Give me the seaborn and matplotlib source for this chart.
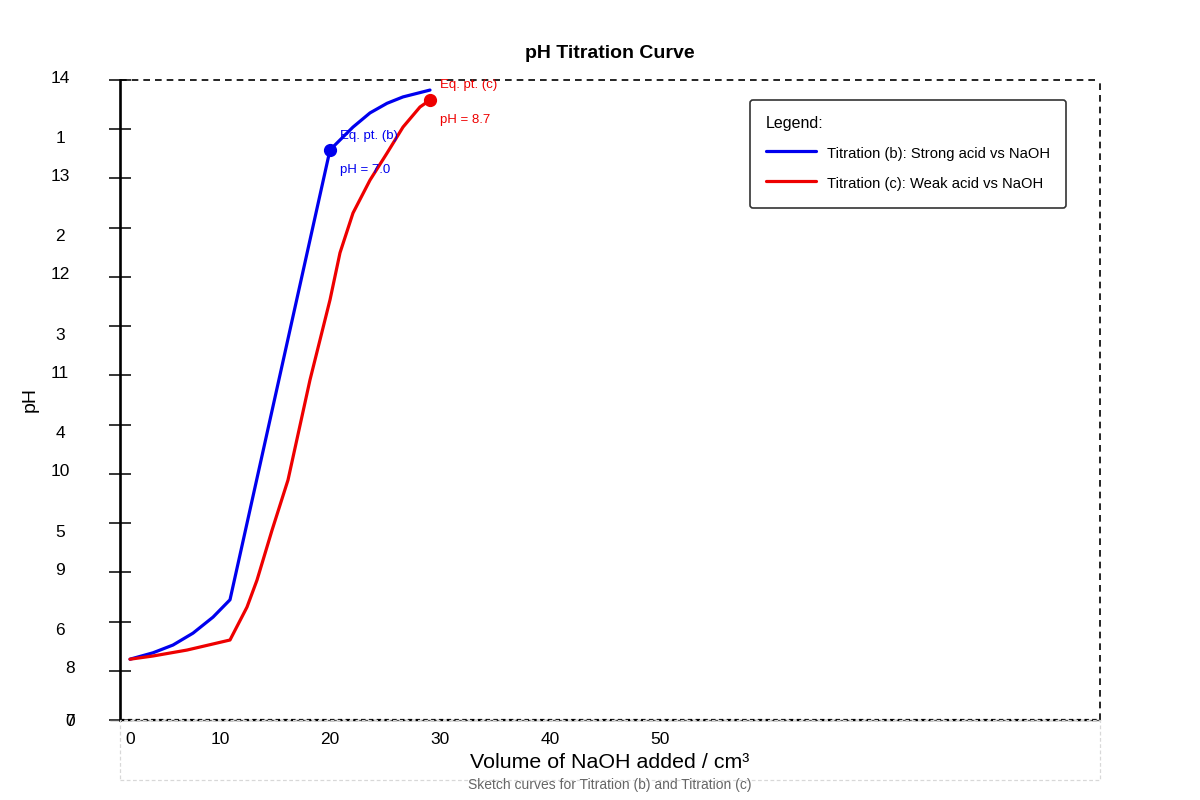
import numpy as np
import pandas as pd
import matplotlib
matplotlib.use("Agg")
import matplotlib.pyplot as plt
from matplotlib.patches import Rectangle
import seaborn as sns

# curve data (volume in cm3, pH)
vol_b = [0, 2.3, 4.3, 6.3, 8.3, 10, 20, 22.3, 24, 25.7, 27.3, 30]
ph_b = [1.33, 1.47, 1.64, 1.90, 2.25, 2.63, 12.47, 12.97, 13.28, 13.49, 13.63, 13.78]
vol_c = [0, 2.3, 5.7, 10, 11.7, 12.7, 14.2, 15.8, 18, 20, 21, 22.3, 24, 25.7, 27.3, 29, 30]
ph_c = [1.33, 1.40, 1.53, 1.75, 2.47, 3.06, 4.15, 5.25, 7.44, 9.19, 10.22, 11.09,
        11.81, 12.40, 12.97, 13.41, 13.56]

eq_b = (20, 12.47)
eq_c = (30, 13.56)
eq_b_text = ["Eq. pt. (b)", "pH = 7.0"]
eq_c_text = ["Eq. pt. (c)", "pH = 8.7"]

x_tick_labels = ["0", "10", "20", "30", "40", "50"]
y_labels_a = ["14", "13", "12", "11", "10", "9", "8"]
y_labels_b = ["1", "2", "3", "4", "5", "6"]

label_b = "Titration (b): Strong acid vs NaOH"
label_c = "Titration (c): Weak acid vs NaOH"

df_b = pd.DataFrame({"vol": vol_b, "ph": ph_b})
df_c = pd.DataFrame({"vol": vol_c, "ph": ph_c})

sns.set_style("white")
plt.rcParams["font.family"] = ["Liberation Sans", "DejaVu Sans"]
plt.rcParams.update({"text.color": "black", "xtick.color": "black",
                     "ytick.color": "black", "axes.labelcolor": "black"})

fig = plt.figure(figsize=(12, 8), dpi=100)
ax = fig.add_axes([120 / 1200, 80 / 800, 980 / 1200, 640 / 800])

blue = "#0000ee"
red = "#ee0000"
sns.lineplot(data=df_b, x="vol", y="ph", sort=False, color=blue, lw=2.3,
             label=label_b, ax=ax, zorder=3, solid_joinstyle="round")
sns.lineplot(data=df_c, x="vol", y="ph", sort=False, color=red, lw=2.3,
             label=label_c, ax=ax, zorder=3, solid_joinstyle="round")

ax.plot(*eq_b, "o", color=blue, ms=8.5, zorder=4)
ax.plot(*eq_c, "o", color=red, ms=8.5, zorder=4)

ax.set_xlim(-1, 97)
ax.set_ylim(0, 14)
px = 14 / 640  # pH per pixel

# annotations next to the equivalence points
ax.text(eq_b[0] + 1, eq_b[1] + 14 * px, eq_b_text[0], color=blue, fontsize=9.5, va="center")
ax.text(eq_b[0] + 1, eq_b[1] - 20 * px, eq_b_text[1], color=blue, fontsize=9.5, va="center")
ax.text(eq_c[0] + 1, eq_c[1] + 15 * px, eq_c_text[0], color=red, fontsize=9.5, va="center")
ax.text(eq_c[0] + 1, eq_c[1] - 20 * px, eq_c_text[1], color=red, fontsize=9.5, va="center")

# spines / frame
for s in ["top", "right", "bottom"]:
    ax.spines[s].set_visible(False)
ax.spines["left"].set_linewidth(1.9)
ax.spines["left"].set_color("black")
ax.axhline(14, color="black", lw=1.2, ls=(0, (4, 3)), clip_on=False)
ax.axvline(97, color="black", lw=1.2, ls=(0, (4, 3)), clip_on=False)
ax.plot([-2, 97], [0, 0], color="#555555", lw=1.0, clip_on=False)
ax.axhline(0, color="black", lw=1.6, ls=(0, (2, 1.5)), clip_on=False)

# y ticks and the odd double labelling
yt = np.linspace(0, 14, 14)
ax.set_yticks(yt, labels=[])
ax.tick_params(axis="y", left=True, direction="inout", length=16, width=1.1, color="black")
ytr = ax.get_yaxis_transform()
top_down = yt[::-1]
for i, lab in enumerate(y_labels_a):
    xx = -0.051 if lab == "8" else -0.0612
    ax.text(xx, top_down[2 * i] + 2 * px, lab, transform=ytr, ha="center", va="center", fontsize=12.5)
for i, lab in enumerate(y_labels_b):
    ax.text(-0.0612, top_down[2 * i + 1] - 9 * px, lab, transform=ytr, ha="center", va="center", fontsize=12.5)
ax.text(-0.051, -2 * px, "0", transform=ytr, ha="center", va="center", fontsize=12.5)
ax.text(-0.051, -2 * px, "7", transform=ytr, ha="center", va="center", fontsize=12.5)

# x tick labels (spaced as in the sketch)
ax.set_xticks([0, 9, 20, 31, 42, 53], labels=x_tick_labels)
ax.tick_params(axis="x", bottom=False, length=0, pad=9, labelsize=12.5)
ax.set_xlabel("")
ax.set_ylabel("")

fig.text(610 / 1200, 1 - 763 / 800, "Volume of NaOH added / cm³", ha="center", va="center", fontsize=15.4)
fig.text(610 / 1200, 1 - 785 / 800, "Sketch curves for Titration (b) and Titration (c)",
         ha="center", va="center", fontsize=10, color="#666666")
fig.text(30 / 1200, 0.5, "pH", rotation=90, ha="center", va="center", fontsize=14)
fig.text(610 / 1200, 1 - 53 / 800, "pH Titration Curve", ha="center", va="center",
         fontsize=14, fontweight="bold")

fig.patches.append(Rectangle((120 / 1200, 20 / 800), 980 / 1200, 60 / 800, transform=fig.transFigure,
                             fill=False, edgecolor="#d8d8d8", lw=0.9, ls=(0, (3, 2))))

leg = ax.legend(loc="upper left", bbox_to_anchor=((750 - 120) / 980, (720 - 100) / 640),
                title="Legend:", alignment="left", fontsize=10.6, title_fontsize=11.5,
                handlelength=3.4, handleheight=1.5, handletextpad=0.7, labelspacing=0.85,
                borderpad=1.1, borderaxespad=0, fancybox=True, framealpha=1,
                edgecolor="#333333")
leg.get_frame().set_linewidth(1.2)

fig.savefig("out.png", dpi=100)
